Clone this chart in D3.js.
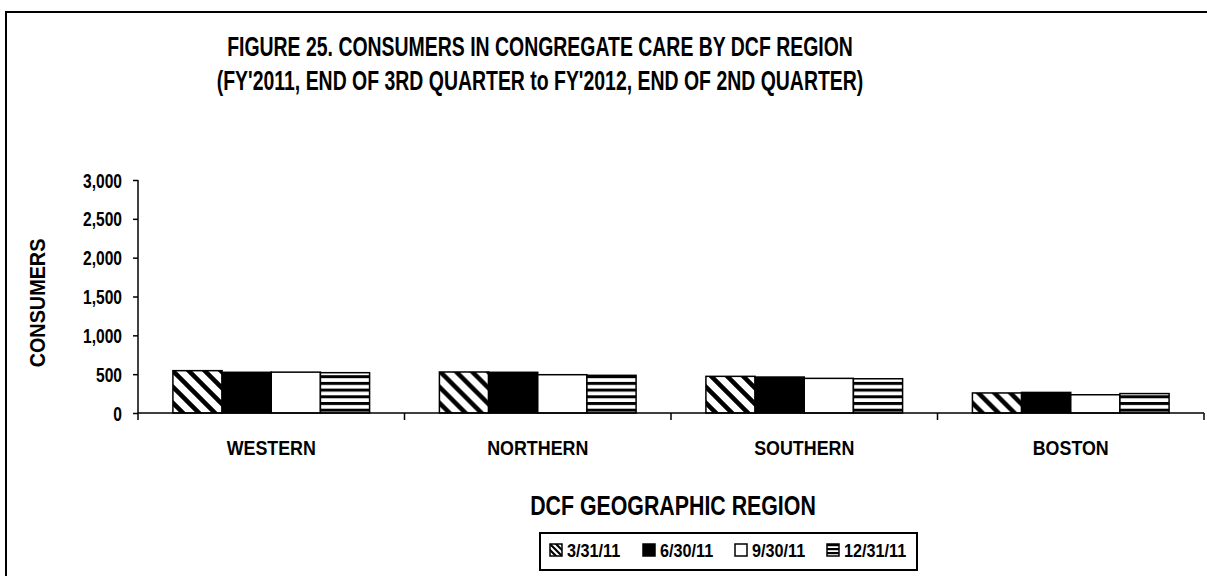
<!DOCTYPE html>
<html>
<head>
<meta charset="utf-8">
<script src="https://cdn.jsdelivr.net/npm/d3@7"></script>
<style>
  html, body { margin: 0; padding: 0; background: #fff; }
  svg { display: block; }
  text { font-family: "Liberation Sans Narrow", "Arial Narrow", "Liberation Sans", sans-serif; font-weight: bold; fill: #000; }
</style>
</head>
<body>
<svg id="chart" width="1207" height="576"></svg>
<script>
// Consumers in congregate care, by DCF region and quarter end
const regions = ["WESTERN", "NORTHERN", "SOUTHERN", "BOSTON"];
const quarters = ["3/31/11", "6/30/11", "9/30/11", "12/31/11"];
const q1 = [545, 528, 472, 258];   // 3/31/11
const q2 = [524, 524, 463, 265];   // 6/30/11
const q3 = [526, 493, 446, 235];   // 9/30/11
const q4 = [519, 485, 441, 250];   // 12/31/11
const yTicks = [0, 500, 1000, 1500, 2000, 2500, 3000];

const seriesValues = [q1, q2, q3, q4];
const fills = ["url(#diag)", "#000", "#fff", "url(#horiz)"];

const svg = d3.select("#chart");

// condensed lettering: shrink each label horizontally by factor f
function squeeze(sel, f) {
  sel.each(function () {
    const len = this.getComputedTextLength();
    d3.select(this).attr("textLength", len * f).attr("lengthAdjust", "spacingAndGlyphs");
  });
  return sel;
}

// fill patterns
const defs = svg.append("defs");
const diag = defs.append("pattern").attr("id", "diag")
  .attr("patternUnits", "userSpaceOnUse").attr("width", 16).attr("height", 16);
diag.append("rect").attr("width", 16).attr("height", 16).attr("fill", "#fff");
diag.append("path").attr("d", "M-4,-4 L20,20 M-4,12 L4,20 M12,-4 L20,4")
  .attr("stroke", "#000").attr("stroke-width", 4.5);
const horiz = defs.append("pattern").attr("id", "horiz")
  .attr("patternUnits", "userSpaceOnUse").attr("width", 8).attr("height", 6.7);
horiz.append("rect").attr("width", 8).attr("height", 6.7).attr("fill", "#fff");
horiz.append("rect").attr("y", 0).attr("width", 8).attr("height", 3).attr("fill", "#000");
const ds = defs.append("pattern").attr("id", "diagSmall")
  .attr("patternUnits", "userSpaceOnUse").attr("width", 6).attr("height", 6).attr("x", 550).attr("y", 544);
ds.append("rect").attr("width", 6).attr("height", 6).attr("fill", "#fff");
ds.append("path").attr("d", "M-2,-2 L8,8 M-2,4 L2,8 M4,-2 L8,2").attr("stroke", "#000").attr("stroke-width", 2.2);
const hs = defs.append("pattern").attr("id", "horizSmall")
  .attr("patternUnits", "userSpaceOnUse").attr("width", 6).attr("height", 4).attr("y", 544);
hs.append("rect").attr("width", 6).attr("height", 4).attr("fill", "#fff");
hs.append("rect").attr("y", 0).attr("width", 6).attr("height", 2.2).attr("fill", "#000");

// outer frame (left and top edges visible)
svg.append("path").attr("d", "M6,576 L6,12 L1207,12")
  .attr("fill", "none").attr("stroke", "#000").attr("stroke-width", 2);

// titles
squeeze(svg.append("text").attr("x", 540).attr("y", 56).attr("text-anchor", "middle")
  .style("font-size", "27px").text("FIGURE 25. CONSUMERS IN CONGREGATE CARE BY DCF REGION"), 0.72);
squeeze(svg.append("text").attr("x", 540).attr("y", 90).attr("text-anchor", "middle")
  .style("font-size", "27px").text("(FY'2011, END OF 3RD QUARTER to FY'2012, END OF 2ND QUARTER)"), 0.72);

// scales
const plotLeft = 138, plotRight = 1204, plotTop = 180, plotBottom = 413;
const x0 = d3.scaleBand().domain(regions).range([plotLeft, plotRight]).paddingInner(0).paddingOuter(0);
const x1 = d3.scaleBand().domain(quarters).range([0, x0.bandwidth()]).paddingInner(0).paddingOuter(0.71);
const y = d3.scaleLinear().domain([0, 3000]).range([plotBottom, plotTop]);

// bars
const groups = svg.append("g").selectAll("g").data(regions).join("g")
  .attr("transform", d => `translate(${x0(d)},0)`);
groups.selectAll("rect")
  .data((r, i) => quarters.map((q, k) => ({ q, k, v: seriesValues[k][i] })))
  .join("rect")
  .attr("x", d => x1(d.q))
  .attr("y", d => y(d.v))
  .attr("width", x1.bandwidth())
  .attr("height", d => plotBottom - y(d.v))
  .attr("fill", d => fills[d.k])
  .attr("stroke", "#000").attr("stroke-width", 1.5);

// y axis
const yAxis = svg.append("g").attr("transform", `translate(${plotLeft},0)`)
  .call(d3.axisLeft(y).tickValues(yTicks).tickSize(5).tickPadding(11).tickFormat(d3.format(",")));
yAxis.select(".domain").attr("stroke-width", 1.5).attr("d", `M0,${plotTop}V${plotBottom}`);
yAxis.selectAll(".tick line").attr("stroke-width", 1.5);
yAxis.selectAll("text").attr("font-family", null).attr("font-size", null)
  .style("font-size", "19.5px").attr("dy", "0.36em");
squeeze(yAxis.selectAll("text"), 0.8);

// x axis with tick marks at band boundaries
const xAxis = svg.append("g").attr("transform", `translate(0,${plotBottom})`);
xAxis.append("line").attr("x1", plotLeft).attr("x2", plotRight)
  .attr("stroke", "#000").attr("stroke-width", 1.5);
const boundaries = regions.map(r => x0(r)).concat([x0(regions[regions.length - 1]) + x0.bandwidth()]);
xAxis.selectAll("line.tk").data(boundaries).join("line").attr("class", "tk")
  .attr("x1", d => d).attr("x2", d => d).attr("y1", 0).attr("y2", 7)
  .attr("stroke", "#000").attr("stroke-width", 1.5);
squeeze(xAxis.selectAll("text").data(regions).join("text")
  .attr("x", d => x0(d) + x0.bandwidth() / 2).attr("y", 42)
  .attr("text-anchor", "middle").style("font-size", "21px").text(d => d), 0.85);

// axis titles
squeeze(svg.append("text").attr("transform", "translate(45,303) rotate(-90)")
  .attr("text-anchor", "middle").style("font-size", "22px").text("CONSUMERS"), 0.9);
squeeze(svg.append("text").attr("x", 673).attr("y", 515).attr("text-anchor", "middle")
  .style("font-size", "27px").text("DCF GEOGRAPHIC REGION"), 0.79);

// legend
const legend = svg.append("g");
legend.append("rect").attr("x", 540).attr("y", 533).attr("width", 377).attr("height", 37)
  .attr("fill", "#fff").attr("stroke", "#000").attr("stroke-width", 2);
const legendX = [550, 643, 735, 827];
const items = legend.selectAll("g").data(quarters).join("g")
  .attr("transform", (d, i) => `translate(${legendX[i]},544)`);
items.append("rect").attr("width", 12).attr("height", 12)
  .attr("fill", (d, i) => i === 0 ? "url(#diagSmall)" : i === 3 ? "url(#horizSmall)" : fills[i])
  .attr("stroke", "#000").attr("stroke-width", 1.5);
squeeze(items.append("text").attr("x", 17).attr("y", 13).style("font-size", "18px").text(d => d), 0.9);
</script>
</body>
</html>
